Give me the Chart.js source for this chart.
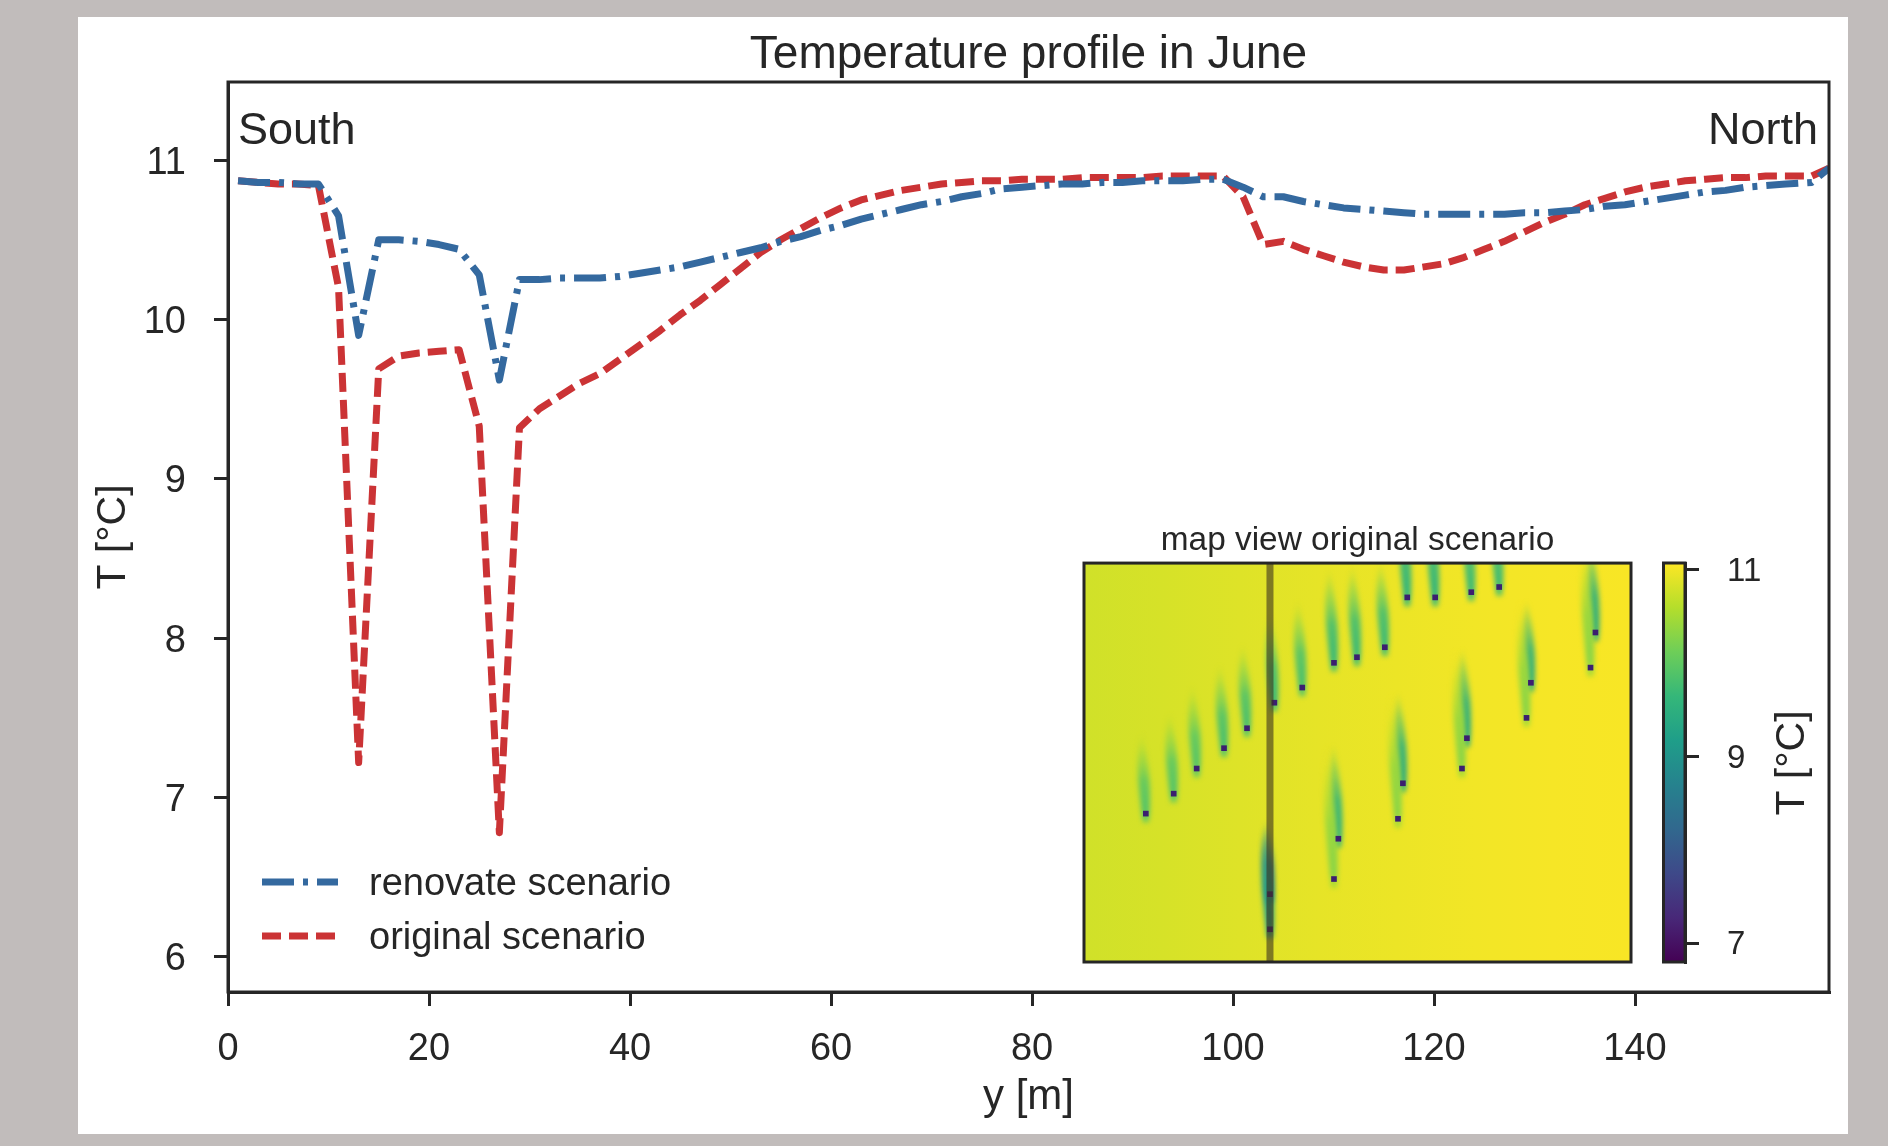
<!DOCTYPE html>
<html>
<head>
<meta charset="utf-8">
<title>Temperature profile in June</title>
<script src="https://cdn.jsdelivr.net/npm/chart.js@4"></script>
<style>
    html, body { margin: 0; padding: 0; background: #c1bcbb; overflow: hidden; }
    #sheet { position: absolute; left: 78px; top: 17px; width: 1770px; height: 1117px; background: #ffffff; }
    canvas { position: absolute; display: block; }
    #profileChart { left: 0; top: 0; }
    #mapChart { left: 1060px; top: 510px; }
    #barChart { left: 1640px; top: 500px; }
</style>
</head>
<body>
<div id="sheet"></div>
<canvas id="profileChart" width="1888" height="1146"></canvas>
<canvas id="mapChart" width="600" height="470"></canvas>
<canvas id="barChart" width="248" height="520"></canvas>
<script>
/* ============================================
   Profile data
   ============================================ */
const DISTANCE = [1, 3, 5, 7, 9, 11, 13, 15, 17, 19, 21, 23, 25, 27, 29, 31, 33, 35, 37, 39,
    41, 43, 45, 47, 49, 51, 53, 55, 57, 59, 61, 63, 65, 67, 69, 71, 73, 75, 77, 79,
    81, 83, 85, 87, 89, 91, 93, 95, 97, 99, 101, 103, 105, 107, 109, 111, 113, 115, 117, 119,
    121, 123, 125, 127, 129, 131, 133, 135, 137, 139, 141, 143, 145, 147, 149, 151, 153, 155, 157.6, 159.3];

const RENOVATE = [10.87, 10.86, 10.86, 10.85, 10.85, 10.65, 9.9, 10.5, 10.5, 10.49, 10.47, 10.44, 10.28, 9.62, 10.25, 10.25, 10.26, 10.26, 10.26, 10.27,
    10.29, 10.31, 10.33, 10.36, 10.39, 10.42, 10.45, 10.49, 10.52, 10.56, 10.59, 10.63, 10.66, 10.69, 10.72, 10.74, 10.77, 10.79, 10.82, 10.83,
    10.84, 10.85, 10.85, 10.86, 10.86, 10.87, 10.87, 10.87, 10.88, 10.88, 10.83, 10.77, 10.77, 10.74, 10.72, 10.7, 10.69, 10.68, 10.67, 10.66,
    10.66, 10.66, 10.66, 10.66, 10.67, 10.67, 10.68, 10.69, 10.71, 10.72, 10.74, 10.76, 10.78, 10.8, 10.81, 10.83, 10.84, 10.85, 10.86, 10.95];

const ORIGINAL = [10.87, 10.86, 10.85, 10.85, 10.84, 10.2, 7.22, 9.69, 9.77, 9.79, 9.8, 9.81, 9.33, 6.78, 9.32, 9.44, 9.52, 9.6, 9.66, 9.75,
    9.84, 9.93, 10.03, 10.12, 10.22, 10.32, 10.42, 10.5, 10.57, 10.64, 10.7, 10.75, 10.78, 10.81, 10.83, 10.85, 10.86, 10.87, 10.87, 10.88,
    10.88, 10.88, 10.89, 10.89, 10.89, 10.89, 10.9, 10.9, 10.9, 10.9, 10.77, 10.47, 10.49, 10.44, 10.4, 10.36, 10.33, 10.31, 10.31, 10.33,
    10.35, 10.39, 10.44, 10.49, 10.55, 10.61, 10.66, 10.72, 10.76, 10.8, 10.83, 10.85, 10.87, 10.88, 10.89, 10.89, 10.9, 10.9, 10.9, 10.95];

const X_TICKS = [0, 20, 40, 60, 80, 100, 120, 140];
const Y_TICKS = [6, 7, 8, 9, 10, 11];
const SERIES_NAMES = ['renovate scenario', 'original scenario'];

/* Map view: wells in percent of the map width and height */
const WELL_X = [11.3, 16.4, 20.6, 25.6, 29.8, 34.8, 39.9, 45.7, 49.9, 55.0, 59.1, 64.2, 70.8, 75.9,
    34.0, 34.0, 46.5, 45.7, 58.3, 57.4, 70.0, 69.1, 81.7, 80.9, 93.5, 92.6];
const WELL_Y = [37.2, 42.2, 48.5, 53.6, 58.6, 65.0, 68.8, 75.0, 76.4, 78.9, 91.4, 91.4, 92.7, 94.0,
    17.0, 8.2, 30.9, 20.8, 44.8, 35.9, 56.1, 48.5, 70.0, 61.2, 82.6, 73.8];
const PLUME_TOP = [58, 63, 70, 75, 80, 88, 91, 99, 100, 101, 115, 115, 115, 115,
    36, 34, 55, 55, 68, 68, 79, 79, 91, 91, 106, 106];
const PLUME_TEMP = [9.9, 9.9, 9.9, 9.8, 9.8, 9.7, 9.8, 9.7, 9.7, 9.7, 9.6, 9.6, 9.7, 9.7,
    8.3, 9.1, 9.5, 10.3, 9.4, 10.3, 9.4, 10.3, 9.4, 10.3, 9.4, 10.3];
const BACKGROUND_TEMP = [10.78, 10.82, 10.87, 10.92, 10.96, 11.0, 11.03, 11.04];
const SECTION_X = [34, 34];
const SECTION_Y = [0, 100];

const BAR_TICKS = [7, 9, 11];
const BAR_RANGE = [6.8, 11.075];

// viridis anchors, from low to high
const VIRIDIS = ['#440154', '#482878', '#3e4989', '#31688e', '#26828e', '#1f9e89', '#35b779', '#6ece58', '#b5de2b', '#fde725'];

const INK = '#262626';
const BLUE = '#34699f';
const RED = '#cb3335';
const FONT = "'Liberation Sans', Arial, sans-serif";

function viridis(temp, alpha) {
    const f = Math.min(1, Math.max(0, (temp - BAR_RANGE[0]) / (BAR_RANGE[1] - BAR_RANGE[0]))) * (VIRIDIS.length - 1);
    const i = Math.min(VIRIDIS.length - 2, Math.floor(f));
    const mix = [1, 3, 5].map(p => {
        const a = parseInt(VIRIDIS[i].substr(p, 2), 16);
        const b = parseInt(VIRIDIS[i + 1].substr(p, 2), 16);
        return Math.round(a + (b - a) * (f - i));
    });
    return 'rgba(' + mix.join(',') + ',' + (alpha === undefined ? 1 : alpha) + ')';
}

function toPoints(xs, ys) {
    return xs.map((x, i) => ({ x: x, y: ys[i] }));
}

// Frame on all four sides, like the axes spines
const framePlugin = {
    id: 'frame',
    afterDraw(chart) {
        const a = chart.chartArea;
        const ctx = chart.ctx;
        ctx.save();
        ctx.strokeStyle = INK;
        ctx.lineWidth = 3;
        ctx.strokeRect(a.left, a.top, a.right - a.left, a.bottom - a.top);
        ctx.restore();
    }
};

// South / North labels and the legend inside the lower left corner
const notesPlugin = {
    id: 'notes',
    afterDraw(chart) {
        const a = chart.chartArea;
        const ctx = chart.ctx;
        ctx.save();
        ctx.fillStyle = INK;
        ctx.textBaseline = 'middle';
        ctx.font = '45px ' + FONT;
        ctx.textAlign = 'left';
        ctx.fillText('South', a.left + 10, 132);
        ctx.textAlign = 'right';
        ctx.fillText('North', a.right - 11, 132);

        ctx.font = '38px ' + FONT;
        ctx.textAlign = 'left';
        chart.data.datasets.forEach((ds, i) => {
            const y = 882 + i * 54;
            ctx.save();
            ctx.strokeStyle = ds.borderColor;
            ctx.lineWidth = ds.borderWidth;
            ctx.setLineDash(ds.borderDash);
            ctx.beginPath();
            ctx.moveTo(262, y);
            ctx.lineTo(338, y);
            ctx.stroke();
            ctx.restore();
            ctx.fillText(ds.label, 369, y + 3);
        });
        ctx.restore();
    }
};

// Temperature field under the wells, placed through the chart scales
const fieldPlugin = {
    id: 'field',
    beforeDatasetsDraw(chart) {
        const a = chart.chartArea;
        const ctx = chart.ctx;
        const xs = chart.scales.x;
        const ys = chart.scales.y;
        ctx.save();
        ctx.beginPath();
        ctx.rect(a.left, a.top, a.right - a.left, a.bottom - a.top);
        ctx.clip();

        const field = ctx.createLinearGradient(a.left, 0, a.right, 0);
        BACKGROUND_TEMP.forEach((t, i) => field.addColorStop(i / (BACKGROUND_TEMP.length - 1), viridis(t)));
        ctx.fillStyle = field;
        ctx.fillRect(a.left, a.top, a.right - a.left, a.bottom - a.top);

        ctx.filter = 'blur(2.5px)';
        WELL_X.forEach((wx, i) => {
            const px = xs.getPixelForValue(wx);
            const py = ys.getPixelForValue(WELL_Y[i]);
            const top = ys.getPixelForValue(PLUME_TOP[i]);
            const h = py - top;
            const tip = px - h * 0.05;
            const glow = ctx.createLinearGradient(0, py + 9, 0, top);
            glow.addColorStop(0, viridis(PLUME_TEMP[i] + 0.2, 0.85));
            glow.addColorStop(0.1, viridis(PLUME_TEMP[i], 1));
            glow.addColorStop(0.45, viridis(PLUME_TEMP[i] + 0.1, 0.9));
            glow.addColorStop(0.75, viridis(PLUME_TEMP[i] + 0.4, 0.45));
            glow.addColorStop(1, viridis(PLUME_TEMP[i] + 0.7, 0));
            ctx.fillStyle = glow;
            ctx.beginPath();
            ctx.moveTo(px - 3, py + 9);
            ctx.bezierCurveTo(px - 6, py - h * 0.25, tip - 8, py - h * 0.6, tip, top);
            ctx.bezierCurveTo(tip + 8, py - h * 0.6, px + 6, py - h * 0.25, px + 3, py + 9);
            ctx.fill();
        });
        ctx.restore();
    }
};

// The colour bar axis name reads upwards, on the far side of the ticks
const barTitlePlugin = {
    id: 'barTitle',
    afterDraw(chart) {
        const ctx = chart.ctx;
        ctx.save();
        ctx.translate(153, 263);
        ctx.rotate(-Math.PI / 2);
        ctx.fillStyle = INK;
        ctx.font = '41px ' + FONT;
        ctx.textAlign = 'center';
        ctx.textBaseline = 'middle';
        ctx.fillText('T [°C]', 0, 0);
        ctx.restore();
    }
};

function initProfileChart() {
    new Chart(document.getElementById('profileChart'), {
        type: 'line',
        data: {
            datasets: [
                {
                    label: SERIES_NAMES[0],
                    data: toPoints(DISTANCE, RENOVATE),
                    borderColor: BLUE,
                    borderWidth: 7,
                    borderDash: [32, 9, 5, 9],
                    pointRadius: 0,
                    tension: 0,
                    borderJoinStyle: 'round'
                },
                {
                    label: SERIES_NAMES[1],
                    data: toPoints(DISTANCE, ORIGINAL),
                    borderColor: RED,
                    borderWidth: 7,
                    borderDash: [19, 8],
                    pointRadius: 0,
                    tension: 0,
                    borderJoinStyle: 'round'
                }
            ]
        },
        options: {
            responsive: false,
            animation: false,
            layout: { padding: { right: 59 } },
            plugins: {
                legend: { display: false },
                tooltip: { enabled: false },
                title: {
                    display: true,
                    fullSize: false,
                    text: 'Temperature profile in June',
                    color: INK,
                    font: { family: FONT, size: 46, weight: 'normal', lineHeight: 1 },
                    padding: { top: 32.6, bottom: 3.4 }
                }
            },
            scales: {
                x: {
                    type: 'linear',
                    min: 0,
                    max: 159.3,
                    afterBuildTicks(axis) { axis.ticks = X_TICKS.map(v => ({ value: v })); },
                    afterFit(axis) { axis.height = 154; },
                    grid: { drawOnChartArea: false, color: INK, lineWidth: 3, tickLength: 14, tickWidth: 3 },
                    border: { color: INK, width: 3 },
                    ticks: { color: INK, font: { family: FONT, size: 38 }, padding: 21, maxRotation: 0 },
                    title: { display: true, text: 'y [m]', color: INK, font: { family: FONT, size: 42 }, padding: { bottom: 23.5 } }
                },
                y: {
                    min: 5.78,
                    max: 11.49,
                    afterBuildTicks(axis) { axis.ticks = Y_TICKS.map(v => ({ value: v })); },
                    afterFit(axis) { axis.width = 228; },
                    grid: { drawOnChartArea: false, color: INK, lineWidth: 3, tickLength: 14, tickWidth: 3 },
                    border: { color: INK, width: 3 },
                    ticks: { color: INK, font: { family: FONT, size: 38 }, padding: 28, labelOffset: 3 },
                    title: { display: true, text: 'T [°C]', color: INK, font: { family: FONT, size: 41 }, padding: { top: 89.5 } }
                }
            }
        },
        plugins: [framePlugin, notesPlugin]
    });
}

function initMapChart() {
    new Chart(document.getElementById('mapChart'), {
        type: 'scatter',
        data: {
            datasets: [
                {
                    label: 'section',
                    type: 'line',
                    data: toPoints(SECTION_X, SECTION_Y),
                    borderColor: 'rgba(60, 50, 30, 0.6)',
                    borderWidth: 7,
                    pointRadius: 0
                },
                {
                    label: 'wells',
                    data: toPoints(WELL_X, WELL_Y),
                    backgroundColor: '#3b1f6f',
                    borderWidth: 0,
                    pointStyle: 'rect',
                    pointRadius: 4
                }
            ]
        },
        options: {
            responsive: false,
            animation: false,
            layout: { padding: { left: 24, right: 29, bottom: 18 } },
            plugins: {
                legend: { display: false },
                tooltip: { enabled: false },
                title: {
                    display: true,
                    fullSize: false,
                    text: 'map view original scenario',
                    color: INK,
                    font: { family: FONT, size: 33.4, weight: 'normal' },
                    padding: { top: 11, bottom: 2 }
                }
            },
            scales: {
                x: { type: 'linear', min: 0, max: 100, display: false },
                y: { min: 0, max: 100, display: false }
            }
        },
        plugins: [fieldPlugin, framePlugin]
    });
}

function initBarChart() {
    new Chart(document.getElementById('barChart'), {
        type: 'bar',
        data: {
            labels: ['T'],
            datasets: [{
                data: [BAR_RANGE],
                barPercentage: 1,
                categoryPercentage: 1,
                backgroundColor(context) {
                    const a = context.chart.chartArea;
                    if (!a) return VIRIDIS[5];
                    const g = context.chart.ctx.createLinearGradient(0, a.bottom, 0, a.top);
                    VIRIDIS.forEach((c, i) => g.addColorStop(i / (VIRIDIS.length - 1), c));
                    return g;
                }
            }]
        },
        options: {
            responsive: false,
            animation: false,
            layout: { padding: { left: 23.5, top: 63, bottom: 58 } },
            plugins: {
                legend: { display: false },
                tooltip: { enabled: false }
            },
            scales: {
                x: { display: false },
                y: {
                    position: 'right',
                    min: BAR_RANGE[0],
                    max: BAR_RANGE[1],
                    afterBuildTicks(axis) { axis.ticks = BAR_TICKS.map(v => ({ value: v })); },
                    afterFit(axis) { axis.width = 203; },
                    grid: { drawOnChartArea: false, color: INK, lineWidth: 3, tickLength: 14, tickWidth: 3 },
                    border: { color: INK, width: 3 },
                    ticks: { color: INK, font: { family: FONT, size: 33 }, padding: 28, labelOffset: 2 }
                }
            }
        },
        plugins: [framePlugin, barTitlePlugin]
    });
}

initProfileChart();
initMapChart();
initBarChart();
</script>
</body>
</html>
